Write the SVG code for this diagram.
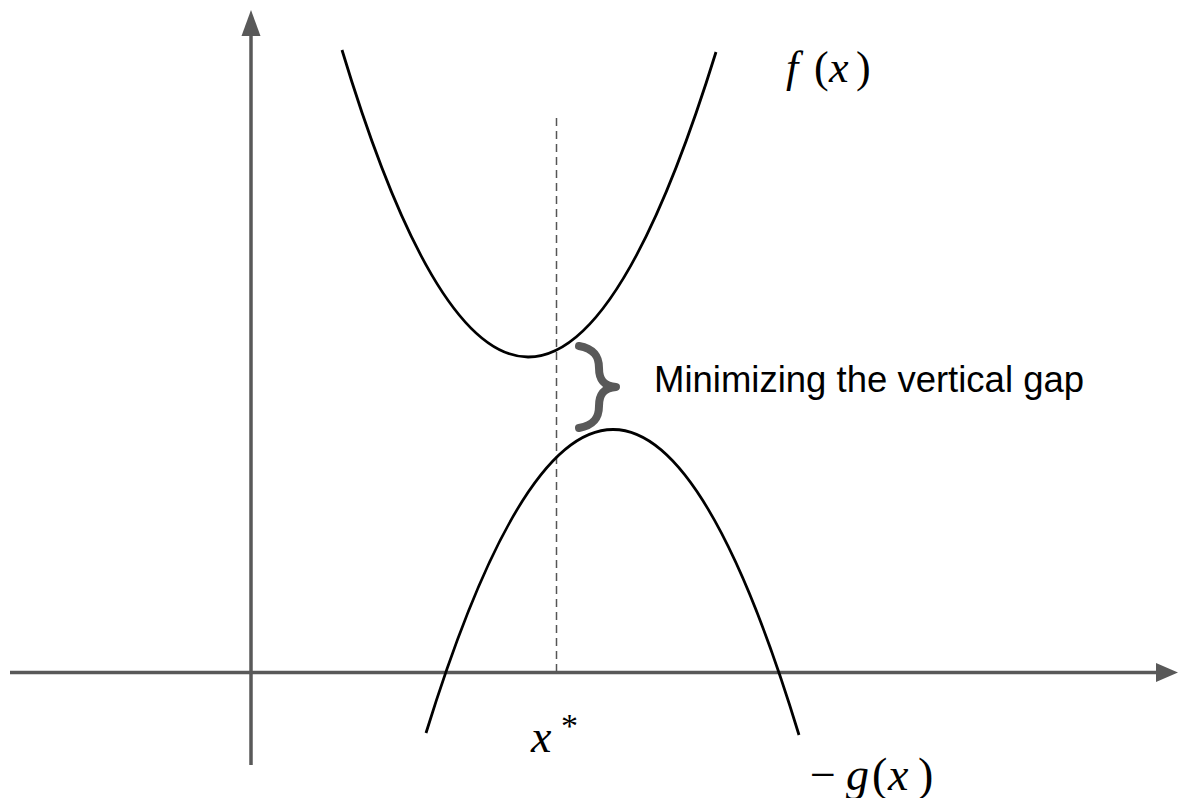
<svg xmlns="http://www.w3.org/2000/svg" width="1178" height="798" viewBox="0 0 1178 798">
<style>
.axis{stroke:#595959;stroke-width:3.5;fill:none}
.head{fill:#595959;stroke:none}
.curve{stroke:#000;stroke-width:2.8;fill:none}
.dash{stroke:#555;stroke-width:1.5;stroke-dasharray:8,5;fill:none}
.brace{stroke:#595959;stroke-width:8;fill:none;stroke-linecap:round;stroke-linejoin:round}
.label{font-family:"Liberation Sans",Arial,sans-serif;font-size:36.5px;fill:#000}
.math{font-family:"Liberation Serif","Times New Roman",serif;fill:#000}
.it{font-style:italic}
</style>
<rect width="1178" height="798" fill="#fff"/>
<g id="connectors">
<g id="y-axis">
<line class="axis" x1="251" y1="765" x2="251" y2="30"/>
<polygon class="head" points="251,10 241.5,36 260.5,36"/>
</g>
<g id="x-axis">
<line class="axis" x1="10" y1="672.5" x2="1160" y2="672.5"/>
<polygon class="head" points="1178,672.5 1156,663 1156,682"/>
</g>
<line id="xstar-line" class="dash" x1="556.5" y1="118" x2="556.5" y2="672"/>
</g>
<g id="f-curve">
<path class="curve" d="M342,50 Q527,663 716,52"/>
</g>
<g id="g-curve">
<path class="curve" d="M426,733 Q614,125 799,735"/>
</g>
<g id="brace">
<path class="brace" d="M579,346 C595,349 599,357 599,368 C599,380 604,386 616,387 C604,388 599,394 599,406 C599,417 595,425 579,428"/>
<text class="label" x="654" y="392">Minimizing the vertical gap</text>
</g>
<g id="f-label">
<text class="math" font-size="44" y="82"><tspan class="it" x="786">f</tspan><tspan x="814">(</tspan><tspan class="it" x="829">x</tspan><tspan x="856">)</tspan></text>
</g>
<g id="g-label">
<text class="math" font-size="46" y="790"><tspan x="810">−</tspan><tspan class="it" x="846">g</tspan><tspan x="872">(</tspan><tspan class="it" x="888">x</tspan><tspan x="918">)</tspan></text>
</g>
<g id="xstar-label">
<text class="math" font-size="46" y="752"><tspan class="it" x="531">x</tspan><tspan x="561" y="737" font-size="34">*</tspan></text>
</g>
</svg>
